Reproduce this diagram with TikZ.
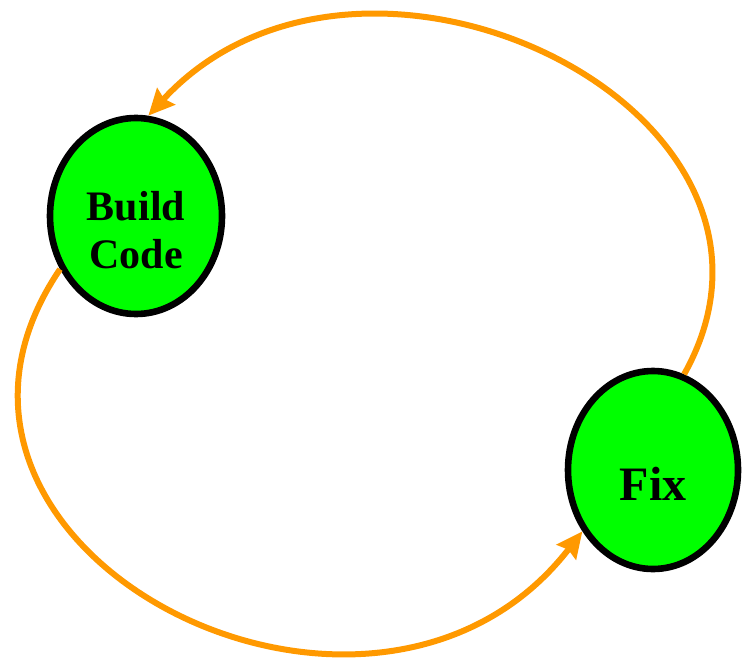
\documentclass[tikz,border=0pt]{standalone}
\usepackage{fontspec}
\setmainfont{Liberation Serif}
\usetikzlibrary{arrows.meta,shapes.geometric}
\definecolor{stagegreen}{RGB}{0,255,0}
\definecolor{looporange}{RGB}{255,153,0}

\begin{document}
\begin{tikzpicture}[x=0.5pt,y=-0.5pt,
  stage/.style={ellipse,draw=black,line width=3.3pt,fill=stagegreen,inner sep=0pt},
  loop/.style={draw=looporange,line width=3pt,-{Stealth[length=13pt,width=12pt,inset=1.5pt]}},
  lbl/.style={font=\bfseries\fontsize{21}{24}\selectfont,align=center}]
\useasboundingbox (0,0) rectangle (742,658);
\node[stage,minimum width=86pt,minimum height=98pt] (build) at (136,216) {};
\node[stage,minimum width=85pt,minimum height=99pt] (fix) at (653,470) {};
\node[lbl] (buildtxt) at ([yshift=-7pt]build.center) {Build\\Code};
\node[lbl,font=\bfseries\fontsize{24}{28}\selectfont] (fixtxt) at ([yshift=-7pt]fix.center) {Fix};
\draw[loop] (fix.72) .. controls +(148,-264) and +(214,-232) .. (build.83);
\draw[loop] (build.215) .. controls +(-190,280) and +(-212,274) .. (fix.221);
\end{tikzpicture}
\end{document}
